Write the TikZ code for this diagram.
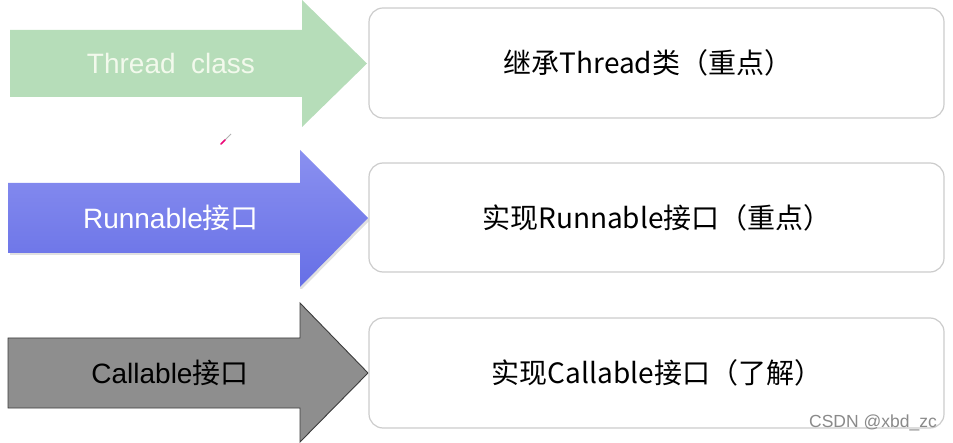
\documentclass[tikz,border=0pt]{standalone}
\usepackage{fontspec}
\setmainfont{Liberation Sans}
\newfontfamily\cjk{Noto Sans CJK SC}
\definecolor{greenarrow}{HTML}{B6DDB9}
\definecolor{greentext}{HTML}{F2F9EC}
\definecolor{bluetop}{HTML}{8A90F0}
\definecolor{bluebot}{HTML}{666FE6}
\definecolor{grayarrow}{HTML}{8E8E8E}
\definecolor{grayedge}{HTML}{3C3C3C}
\definecolor{boxedge}{HTML}{CCCCCC}
\definecolor{wmark}{HTML}{8A8A8A}
\tikzset{
  optbox/.style={draw=boxedge, line width=1.2pt, rounded corners=14pt, fill=white},
  arrowlabel/.style={font=\fontsize{28}{32}\selectfont, inner sep=0pt, anchor=center},
  boxlabel/.style={font=\fontsize{28}{32}\selectfont, inner sep=0pt, anchor=center, text=black},
}
\begin{document}
\begin{tikzpicture}[x=1pt,y=-1pt]
\useasboundingbox (0,0) rectangle (953,443);
% arrows
\fill[greenarrow] (10,30) -- (302,30) -- (302,0) -- (367,63.5) -- (302,127) -- (302,97) -- (10,97) -- cycle;
\fill[black!12] (10,255) -- (300,255) -- (300,289) -- (302,289) -- (370,220) -- (368,218) -- (300,287) -- (300,253) -- (10,253) -- cycle;
\shade[top color=bluetop, bottom color=bluebot] (8,183) -- (300,183) -- (300,150) -- (368,218) -- (300,287) -- (300,253) -- (8,253) -- cycle;
\filldraw[fill=grayarrow, draw=grayedge, line width=0.9pt] (8,338) -- (300,338) -- (300,303) -- (368,373) -- (300,442) -- (300,408) -- (8,408) -- cycle;
\node[arrowlabel, text=greentext] (a1) at (171,63.5) {Thread\ \ class};
\node[arrowlabel, text=white] (a2) at (171,218) {Runnable\cjk{接口}};
\node[arrowlabel, text=black] (a3) at (170,373) {Callable\cjk{接口}};
% boxes
\draw[optbox] (369,8) rectangle (944,118);
\draw[optbox] (369,163) rectangle (944,272);
\draw[optbox] (369,318) rectangle (944,428);
\node[boxlabel] (b1) at (648,63) {\cjk{继承}Thread\cjk{类（重点）}};
\node[boxlabel] (b2) at (657,218) {\cjk{实现}Runnable\cjk{接口（重点）}};
\node[boxlabel] (b3) at (657,373) {\cjk{实现}Callable\cjk{接口（了解）}};
% small pen cursor
\draw[gray!60, line width=0.8pt] (224,141) -- (231,134);
\draw[magenta!80!red, line width=1.6pt, line cap=round] (221,144) -- (225,140);
% watermark
\node[font=\fontsize{17.5}{20}\selectfont, text=wmark, anchor=east, inner sep=0pt] (wm) at (937,423) {CSDN @xbd\_zc};
\end{tikzpicture}
\end{document}
